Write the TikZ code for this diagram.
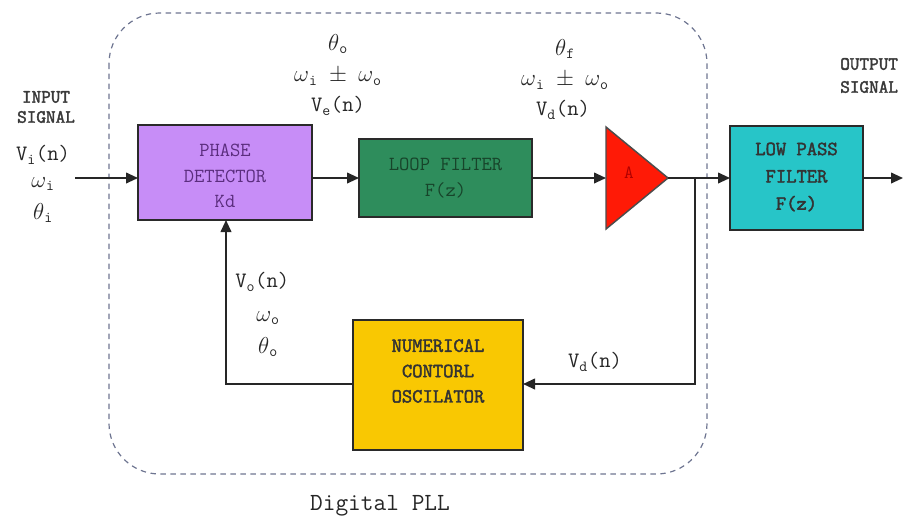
\documentclass[tikz,border=0pt]{standalone}
\usepackage{fontspec}
\usetikzlibrary{arrows.meta,shapes.geometric}
\newfontfamily\ttheavy{Latin Modern Mono}[FakeBold=2.2]
\definecolor{pdfill}{HTML}{C78DF7}
\definecolor{pdtext}{HTML}{5B2D7E}
\definecolor{lffill}{HTML}{2E8D5C}
\definecolor{lftext}{HTML}{17442A}
\definecolor{ampfill}{HTML}{FF1A06}
\definecolor{amptext}{HTML}{B00000}
\definecolor{lpffill}{HTML}{27C5C8}
\definecolor{ncofill}{HTML}{F9C802}
\definecolor{boxline}{HTML}{2A2A2A}
\definecolor{dashline}{HTML}{6E7591}
\definecolor{labelgray}{HTML}{3A3A3A}
\newcommand\gw{$\omega$}
\newcommand\gt{$\theta$}
\tikzset{
  block/.style={draw=boxline, line width=1.1pt, inner sep=0pt, outer sep=0pt, align=center},
  sig/.style={line width=1.4pt, draw=black!85},
  arr/.style={sig, -{Triangle[length=9pt,width=8pt]}},
  lbl/.style={font=\ttfamily\fontsize{16.5}{19}\selectfont, inner sep=0pt, text=black!85},
  small/.style={font=\ttheavy\fontsize{14}{16}\selectfont, inner sep=0pt, text=labelgray},
  boxtxt/.style={font=\ttfamily\fontsize{15}{19}\selectfont, inner sep=0pt, align=center},
  boldtxt/.style={inner sep=0pt, align=center, text=black!80}
}
\begin{document}
\begin{tikzpicture}[x=0.75pt,y=-0.75pt]
\useasboundingbox (0,0) rectangle (907,522);

% dashed boundary of the digital PLL
\draw[dashline, line width=0.9pt, dash pattern=on 4pt off 3.5pt, rounded corners=38pt]
  (109,13) rectangle (707,474);
\node[font=\ttfamily\fontsize{18.5}{22}\selectfont, text=black!85] (title) at (380,506) {Digital PLL};

% blocks
\node[block, fill=pdfill, minimum width=130.5pt, minimum height=71.25pt] (pd) at (225,172.5) {};
\node[boxtxt, text=pdtext] (pdt) at (225,176) {PHASE\\DETECTOR\\Kd};

\node[block, fill=lffill, minimum width=129.75pt, minimum height=58.5pt] (lf) at (445.5,178) {};
\node[boxtxt, text=lftext] (lft) at (445.5,178) {LOOP FILTER\\F(z)};

\node[block, draw=black!70, fill=ampfill, shape=isosceles triangle, isosceles triangle stretches,
      minimum width=76.5pt, minimum height=46.5pt, anchor=west] (amp) at (606,178) {};
\node[font=\ttfamily\fontsize{14}{16}\selectfont, text=amptext, inner sep=0pt] (ampt) at (629,173) {A};

\node[block, fill=lpffill, minimum width=99.75pt, minimum height=78pt] (lpf) at (796.5,178) {};
\node[boldtxt, font=\ttheavy\fontsize{15}{20.5}\selectfont] (lpft) at (796.5,177) {LOW PASS\\FILTER\\F(z)};

\node[block, fill=ncofill, minimum width=127.5pt, minimum height=97.5pt] (nco) at (438,385) {};
\node[boldtxt, font=\ttheavy\fontsize{15}{19}\selectfont] (ncot) at (438,371) {NUMERICAL\\CONTORL\\OSCILATOR};

% connection points
\coordinate (in) at (75,178);
\coordinate (out) at (907,178);
\coordinate (j) at (695,178);
\coordinate (jd) at (695,384);
\coordinate (fb) at (226,384);

% signal path
\draw[arr] (in) -- (pd.west |- in);
\draw[arr] (pd.east |- lf.west) -- (lf.west);
\draw[arr] (lf.east) -- (amp.west);
\draw[arr] (amp.apex) -- (lpf.west);
\draw[arr] (lpf.east) -- ([xshift=-3pt]out);
\draw[arr] (j) -- (jd) -- (nco.east |- jd);
\draw[arr] (nco.west |- fb) -- (fb) -- (fb |- pd.south);

% input labels
\node[small] (inp) at (46,97) {INPUT};
\node[small] (sg) at (46,117) {SIGNAL};
\node[lbl] (vi) at (43,155) {V\textsubscript{i}(n)};
\node[lbl] (wi) at (43,184) {\gw\textsubscript{i}};
\node[lbl] (ti) at (43,213) {\gt\textsubscript{i}};

% phase detector output labels
\node[lbl] (t1) at (338,44) {\gt\textsubscript{o}};
\node[lbl] (w1) at (338,77) {\gw\textsubscript{i} $\pm$ \gw\textsubscript{o}};
\node[lbl] (v1) at (338,106) {V\textsubscript{e}(n)};

% loop filter output labels
\node[lbl] (t2) at (565,49) {\gt\textsubscript{f}};
\node[lbl] (w2) at (565,81) {\gw\textsubscript{i} $\pm$ \gw\textsubscript{o}};
\node[lbl] (v2) at (563,110) {V\textsubscript{d}(n)};

% output labels
\node[small, anchor=west] (outp) at (840,64) {OUTPUT};
\node[small, anchor=west] (osg) at (840,87) {SIGNAL};

% feedback labels
\node[lbl, anchor=west] (vo) at (235,282) {V\textsubscript{o}(n)};
\node[lbl] (wo) at (268,318) {\gw\textsubscript{o}};
\node[lbl] (to) at (268,347) {\gt\textsubscript{o}};
\node[lbl] (vd) at (595,362) {V\textsubscript{d}(n)};
\end{tikzpicture}
\end{document}
